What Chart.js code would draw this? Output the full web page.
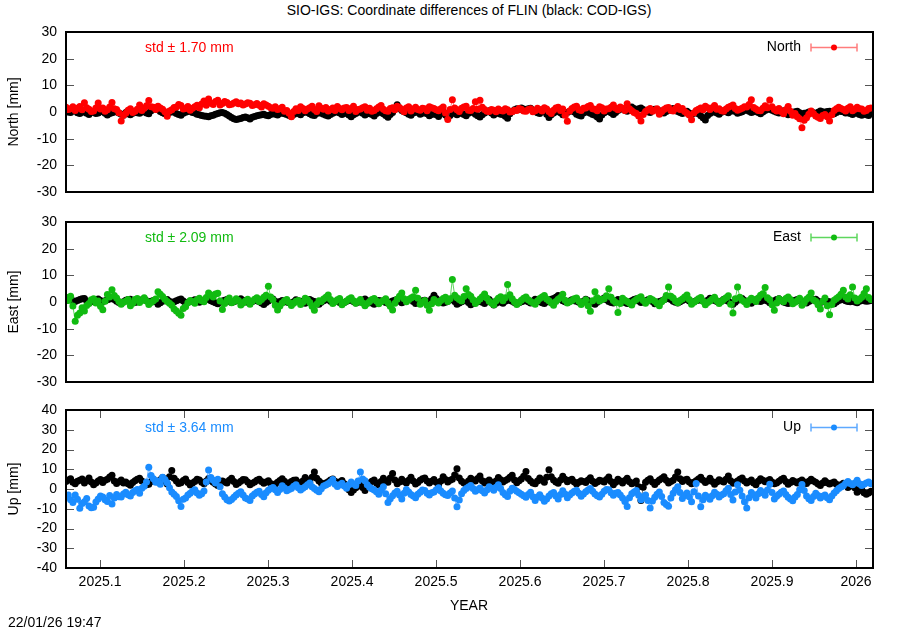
<!DOCTYPE html>
<html>
<head>
<meta charset="utf-8">
<script src="https://cdn.jsdelivr.net/npm/chart.js@4.4.1/dist/chart.umd.min.js"></script>
<style>
  body { margin: 0; background: #fff; width: 900px; height: 630px; position: relative; overflow: hidden;
         font-family: "Liberation Sans", Arial, sans-serif; }
  canvas { position: absolute; left: 0; }
  .txt { position: absolute; font-size: 14px; color: #000; white-space: nowrap; line-height: 16px; }
</style>
</head>
<body>
<div class="txt" style="left:0; width:938px; top:2px; text-align:center;">SIO-IGS: Coordinate differences of FLIN (black: COD-IGS)</div>
<canvas id="c-north" width="900" height="180" style="top:22px"></canvas>
<canvas id="c-east"  width="900" height="180" style="top:212px"></canvas>
<canvas id="c-up"    width="900" height="218" style="top:400px"></canvas>
<div class="txt" style="left:0; width:938px; top:597px; text-align:center;">YEAR</div>
<div class="txt" style="left:8px; top:614px;">22/01/26 19:47</div>

<script>
// ── DATA ───────────────────────────────────────
// daily solutions starting at 2025.0595
const startEpoch = 2025.0595;
const stepDays   = 1;

const xTicks = [2025.1, 2025.2, 2025.3, 2025.4, 2025.5, 2025.6, 2025.7, 2025.8, 2025.9, 2026.0];
const xTickLabels = ['2025.1', '2025.2', '2025.3', '2025.4', '2025.5', '2025.6', '2025.7', '2025.8', '2025.9', '2026'];

// North: SIO-IGS (red) and COD-IGS (black), mm
const northSio = [
  1.8, 0.9, 1.2, 2.0, 0.6, 1.4, 2.1, 0.8, 3.5, 1.6, 1.0, 0.2, 0.4, 1.5, 3.4, 1.1, 1.5, 0.3, 0.8, 1.9, 3.6, 1.2, 0.9, -0.3, -3.4, -1.2, -0.5, 0.7, 1.2, -0.2, 0.3, 1.0, 2.6, 0.6, 1.4, 2.3, 4.3, 2.0, 1.8, 0.9,
  2.2, 1.5, 1.0, 0.1, -1.6, 0.4, 0.8, 1.7, 1.9, 2.8, 2.4, 1.1, 1.3, 2.1, 0.7, 1.4, 2.0, 2.5, 1.6, 3.0, 4.1, 2.5, 4.9, 3.3, 2.8, 3.9, 4.4, 2.6, 3.2, 3.9, 3.6, 2.7, 2.9, 3.4, 3.8, 3.1, 3.4, 2.6, 3.0, 3.5,
  3.3, 2.4, 2.7, 3.2, 2.5, 1.9, 3.1, 2.6, 2.2, 1.6, 1.4, 2.0, 0.9, 1.2, 1.8, 0.3, 0.6, -0.5, -1.8, 0.2, 1.2, 0.6, 2.0, 1.3, 0.5, 1.1, 1.6, 2.2, 0.9, 0.2, 2.3, 1.4, 1.0, 1.7, 0.4, 0.9, 1.5, 0.6, 2.1, 1.3,
  0.8, 1.5, 1.7, 0.6, 1.3, 2.2, 0.2, 0.9, 1.1, 1.6, 2.0, 0.7, 1.4, 0.3, 0.6, 1.2, 1.9, 2.4, 1.0, 0.5, 0.3, 1.3, 1.6, 0.8, 2.2, 1.7, 0.9, 0.1, 1.5, 2.0, 0.4, 1.1, 1.8, 0.9, 0.7, 1.4, 1.2, 0.5, 2.0, 1.6,
  1.3, 0.8, 0.5, 1.2, 1.9, -0.4, -2.8, 0.9, 4.6, 1.5, 0.8, 0.2, 1.4, 1.9, 2.2, 0.7, 0.6, 1.3, 3.8, 1.0, 4.4, 1.8, 0.9, 0.3, 0.2, 0.9, 0.7, 0.1, 1.1, 0.6, 0.4, 1.2, 0.8, 0.0, 0.1, 0.7, 0.6, 1.3, 1.0, 0.4,
  0.3, 0.9, 1.2, 0.1, 0.5, 1.4, 0.9, 0.4, 1.6, 1.1, 0.2, -0.6, 0.7, 1.5, 1.8, 0.6, 1.1, -1.2, -3.5, 0.4, 1.3, 1.9, 2.2, 0.8, 0.6, 1.4, 1.5, 2.1, 2.4, 1.2, 1.0, 0.5, 2.0, 1.6, 0.4, 1.1, 1.2, 1.8, 2.6, 1.4,
  0.8, 1.9, 1.4, 0.6, 3.1, 1.2, 0.5, -0.2, -0.6, -1.5, -3.4, -0.9, 0.2, 0.8, 1.3, 0.3, 0.7, 1.2, -0.8, 0.1, 0.9, 1.5, 1.7, 0.6, 0.4, 1.3, 2.1, 0.9, 1.3, 0.2, -0.5, -1.1, -2.9, -0.4, 0.6, 1.0, 1.5, 0.8, 2.2, 1.6,
  0.9, 1.6, 2.4, 1.0, 1.2, 0.5, 0.3, 1.1, 1.8, 2.2, 2.6, 1.3, 0.7, 1.0, 1.4, 2.0, 1.9, 2.8, 4.6, 1.7, 1.1, 0.6, 0.5, 1.4, 2.3, 1.6, 4.5, 2.0, 0.9, 0.4, 1.3, 0.2, -0.7, 0.8, 2.1, 0.3, -1.2, -0.6, -1.8, -2.5,
  -5.9, -3.1, -2.2, -0.8, 0.4, -0.6, -1.5, -2.0, -2.4, -1.3, -0.9, -1.8, -3.4, -1.0, 0.6, 1.2, 1.8, 1.3, 0.9, 0.4, 1.4, 2.0, 0.5, 1.0, 1.8, 1.2, 1.1, 0.3, 0.6, 1.3, 1.5
];
const northCod = [
  0.3, 0.0, -0.2, 0.4, 0.5, -0.3, -0.6, -0.1, 0.1, -0.5, -0.9, -0.2, 0.2, -0.6, -0.4, 0.1, 0.4, -0.5, -1.1, -0.6, -0.3, 0.0, 0.2, -0.4, -0.8, -1.2, -0.2, -0.7, -1.0, -0.5, 0.1, -0.3, -0.5, 0.0, 0.3, -0.4, -0.7, 0.5, 1.6, 1.0,
  0.8, 0.2, -0.3, -0.7, -0.9, -0.2, 0.4, -0.1, -0.6, -0.9, -1.2, -0.5, -0.1, 0.2, 0.5, -0.2, -0.4, -0.8, -1.0, -1.3, -1.5, -1.6, -1.8, -1.4, -1.2, -0.8, -0.6, -0.3, -0.2, -0.5, -0.9, -1.5, -2.1, -2.5, -2.8, -2.6, -2.4, -2.1, -1.9, -2.2,
  -2.6, -2.0, -1.7, -1.4, -1.2, -1.0, -0.8, -1.2, -1.4, -0.9, -0.5, -0.8, -1.1, -0.6, -0.3, -0.7, -0.9, -1.3, -1.6, -0.9, -0.4, -0.6, -1.0, -0.3, 0.2, -0.2, -0.7, -1.1, -1.3, -0.6, -0.2, -0.5, -0.8, -1.2, -1.5, -0.9, -0.5, -0.1, 0.1, -0.4,
  -0.9, -0.6, -0.3, -1.1, -1.8, -1.0, -0.6, -0.1, 0.2, -0.5, -1.1, -0.7, -0.4, -0.9, -1.5, -0.6, 0.1, -0.2, -0.7, -1.3, -2.0, -0.9, -0.2, 1.2, 2.7, 1.4, 0.6, 0.1, -0.3, -0.8, -1.2, -0.4, 0.4, -0.2, -0.8, -0.5, -0.1, -0.7, -1.4, -0.9,
  -0.5, -1.0, -1.7, -0.6, 0.2, -1.1, -2.2, -1.3, -0.6, -0.3, -1.0, -0.6, -0.2, -0.9, -1.4, -0.5, 0.3, -0.2, -0.8, -1.4, -1.9, -1.0, -0.4, 0.1, 0.5, -0.4, -1.1, -0.6, -0.3, -0.8, -0.9, -1.6, -2.3, -0.7, 0.2, 0.8, 1.2, 0.9, 1.5, 1.1,
  0.8, 1.2, 1.4, 0.7, 0.2, -0.3, -0.6, 0.3, 0.9, -0.8, -2.1, -1.0, -0.4, 0.1, 0.6, -0.3, -1.0, -0.5, -0.2, 0.3, 0.7, 0.0, -0.8, -1.2, -1.5, -0.4, 0.3, -0.1, -0.5, -0.9, -1.2, -1.9, -2.6, -1.1, -0.3, 0.2, 0.4, -0.3, -0.9, -0.2,
  0.6, 1.0, 1.2, 0.7, 0.3, 1.1, 1.9, 1.3, 0.8, 1.2, 1.5, 0.9, 0.4, 0.1, -0.2, 0.5, 1.0, 0.8, 0.5, 0.0, -0.4, 0.2, 0.7, 1.0, 1.3, 0.6, 0.2, -0.2, -0.6, -0.1, 0.3, -0.4, -0.9, -0.5, -0.1, -0.7, -1.4, -2.2, -3.0, -1.3,
  -0.6, -0.1, 0.2, -0.4, -0.8, -0.1, 0.5, 0.1, -0.3, 0.3, 0.8, 0.2, -0.5, -0.2, 0.1, 0.6, 0.9, 0.3, -0.2, 0.1, 0.4, -0.2, -0.7, 0.0, 0.6, 0.9, 1.2, 0.7, 0.3, -0.1, -0.4, 0.0, 0.5, -0.3, -1.0, -0.6, -0.2, 0.1, 0.3, -0.3,
  -0.8, -0.5, -0.4, 0.0, 0.2, -0.3, -0.6, -0.1, 0.4, 0.1, -0.1, 0.2, 0.3, -0.3, -0.7, -0.2, 0.5, 0.2, 0.1, -0.4, -0.3, -0.6, -0.9, -0.4, -0.5, -0.9, -1.2, -0.7, -1.0, -1.3, -0.4
];

// East
const eastSio = [
  1.8, 0.6, 2.2, -1.5, -7.2, -5.0, -4.1, -2.2, -3.4, -1.3, -0.6, 0.8, 1.2, -0.4, 0.4, -1.6, -2.9, 0.3, 2.8, 1.9, 4.6, 2.4, 1.5, 0.2, -0.8, -0.1, 0.3, 0.9, -1.4, -0.5, 0.9, 1.3, -0.2, 0.6, 1.6, 0.4, -0.9, -0.2, 0.5, 1.1,
  3.8, 2.9, 2.1, 1.0, 0.2, -0.5, -1.2, -2.6, -3.4, -4.2, -5.0, -2.4, -1.8, -0.3, 0.6, 0.2, -0.5, 0.8, 1.4, 0.5, 0.1, 1.7, 3.4, 2.6, 1.9, 3.0, 3.3, 0.4, -2.8, -0.6, 0.7, 1.5, -0.3, 0.2, 1.2, 0.6, -1.1, -0.4, 0.4, 1.0,
  -0.8, 0.3, 1.0, 1.6, 0.2, 0.9, 1.8, 2.5, 5.9, 1.9, 0.8, -1.2, -3.0, -1.5, -0.4, 0.5, 0.9, -0.2, -1.3, -0.5, 0.3, 0.6, -0.9, -0.1, 1.4, 0.8, -0.2, -1.6, -3.1, -0.8, 0.5, 0.2, 1.1, 1.8, 2.6, 0.9, -0.6, 0.1, 0.8, 1.3,
  -1.0, -0.2, 0.4, 1.1, 1.6, 0.5, -0.5, 0.2, 0.9, -0.4, -1.4, -0.6, 0.2, 0.9, 1.3, 0.4, -0.7, 0.1, 0.6, 1.2, -0.3, -1.6, -3.0, -0.5, 1.0, 2.2, 3.4, 1.2, 0.1, 0.8, 1.5, 2.0, 4.4, 1.4, -0.8, -0.1, 0.6, -1.2, -3.1, -0.7,
  0.9, 0.2, -0.4, 0.6, 1.3, 1.8, 0.2, 1.2, 8.4, 2.5, 1.6, 0.9, 0.4, 2.1, 5.0, 2.8, 2.2, 0.8, -0.6, 0.3, 1.1, 2.0, 3.0, 1.5, 0.3, -0.4, -1.0, 0.5, 1.4, 2.0, 0.5, 1.6, 6.6, 2.7, 1.2, 0.1, -0.9, -0.2, 0.7, 1.4,
  1.9, 0.8, 0.2, -0.3, -0.8, 0.4, 1.3, 1.9, 2.4, 1.1, 0.5, -0.4, -1.2, 0.2, 1.0, 1.7, 2.9, 0.7, -0.4, 0.1, 0.6, 1.2, 1.5, 0.3, -0.9, -0.1, 0.8, -1.4, -3.5, 0.5, 3.8, 1.6, 0.4, 0.9, 1.2, 2.3, 5.0, 1.8, 0.6, -0.2,
  -3.9, -0.6, 1.4, 0.7, 0.2, -0.4, -1.1, 0.3, 0.9, 1.5, 2.0, 0.6, -0.5, 0.4, 1.3, 0.8, 0.3, -0.6, -1.4, 0.1, 0.8, 2.4, 5.6, 2.2, 1.5, 0.4, -0.3, 0.6, 1.1, 1.9, 2.6, 0.9, -0.8, -0.1, 0.5, 1.2, 1.7, 0.3, -1.0, -0.2,
  0.4, 1.1, 1.8, 0.5, -0.6, 0.2, 0.9, 1.6, 2.3, -0.8, -4.1, 1.2, 5.6, 1.8, 0.7, 0.1, -0.9, 0.6, 1.4, 0.8, 0.2, 1.5, 2.5, 3.1, 5.4, 1.6, 0.8, -1.0, -3.1, -0.4, 1.2, 0.6, 0.1, 1.3, 1.9, 0.9, -0.7, -0.1, 0.6, 1.4,
  -1.2, -0.3, 1.0, 1.8, 3.4, 0.8, 0.3, -1.0, -2.6, 0.2, 1.5, -1.4, -4.8, -0.9, 0.7, 1.3, 2.0, 2.9, 4.4, 1.9, 1.1, 2.7, 5.6, 1.5, 0.4, 1.0, 1.8, 3.2, 5.0, 1.7, 0.9
];
const eastCod = [
  0.6, 0.9, 1.0, 0.5, 0.2, 0.6, 0.9, 1.2, 1.3, 0.4, -0.4, 0.1, 0.5, 0.8, 1.1, 0.6, 0.2, 0.5, 0.8, 1.1, 1.4, 0.9, 0.3, -0.2, -0.6, 0.1, 0.7, 0.9, 1.0, 0.4, -0.2, 0.1, 0.4, 0.8, 1.2, 0.5, 0.0, 0.3, 0.6, 0.2,
  -0.8, -0.3, 0.3, 0.6, 0.9, 0.3, -0.3, 0.1, 0.5, 0.8, 1.1, 0.4, -0.5, -0.1, 0.2, 0.5, 0.8, 0.3, -0.1, 0.2, 0.6, 0.9, 1.0, 0.5, 0.1, -0.3, -0.7, -0.1, 0.4, 0.7, 0.9, 0.3, -0.2, 0.1, 0.5, 0.9, 1.2, 0.7, 0.3, -0.1,
  -0.4, 0.2, 0.7, 0.5, 0.2, -0.4, -0.9, -0.2, 0.4, 0.8, 1.1, 0.3, -0.3, 0.2, 0.6, 0.2, 0.0, -0.3, -0.6, 0.1, 0.8, 0.5, 0.3, -0.1, -0.5, 0.3, 0.9, 0.5, 0.2, -0.4, -0.8, -0.1, 0.5, 0.8, 1.0, 0.3, -0.2, 0.1, 0.4, -0.2,
  -0.7, -0.2, 0.3, 0.6, 0.8, 0.2, -0.4, -0.1, 0.2, 0.7, 1.1, 0.5, 0.0, -0.4, -0.8, -0.1, 0.6, 0.4, 0.2, -0.2, -0.5, 0.0, 0.4, 0.7, 1.0, 0.3, -0.3, 0.1, 0.5, 0.8, 0.9, 0.2, -0.6, -0.3, 0.1, 0.5, 0.7, 0.3, -0.2, 1.2,
  2.5, 1.3, 0.6, 0.1, -0.4, -0.1, 0.3, 0.8, 1.2, 0.2, -0.8, -0.4, 0.1, 0.5, 0.7, -0.2, -1.0, -0.6, -0.3, 0.1, 0.4, -0.1, -0.6, 0.2, 0.9, 0.0, -1.1, -0.5, 0.2, -0.1, -0.5, 0.3, 0.8, 0.6, 0.3, -0.2, -0.7, -0.3, 0.1, 0.4,
  0.6, 0.1, -0.4, 0.4, 1.0, 0.6, 0.2, -0.3, -0.6, 0.1, 0.7, 1.0, 1.3, 1.8, 2.4, 1.1, 0.5, 0.1, -0.2, 0.4, 0.8, 0.5, 0.3, -0.1, -0.5, 0.3, 1.0, 0.6, 0.1, -0.4, -0.8, -0.1, 0.6, 1.0, 1.5, 0.8, 0.2, -0.2, -0.4, 0.3,
  0.9, 0.6, 0.3, -0.2, -0.6, 0.0, 0.5, 0.9, 1.2, 0.4, -0.2, 0.1, 0.4, 0.8, 1.0, 0.2, -0.7, -0.2, 0.2, 0.5, 0.8, 1.2, 1.6, 0.9, 0.3, -0.1, -0.4, 0.1, 0.6, 0.9, 1.1, 0.4, -0.3, 0.1, 0.5, 0.7, 0.9, 0.4, 0.0, 0.7,
  1.4, 1.0, 0.6, 0.2, -0.2, 0.4, 1.0, 0.7, 0.3, -0.3, -0.8, -0.1, 0.7, 1.0, 1.3, 0.6, 0.1, -0.2, -0.5, 0.2, 0.8, 0.5, 0.2, 0.6, 1.1, 0.4, -0.3, 0.1, 0.5, 0.9, 1.2, 0.6, 0.0, -0.3, -0.6, -0.1, 0.4, 0.7, 0.9, 0.5,
  0.2, -0.1, -0.4, 0.2, 0.7, 0.9, 1.0, 0.4, -0.2, 0.1, 0.5, 0.3, 0.1, -0.3, -0.7, 0.0, 0.6, 0.8, 0.9, 0.5, 0.2, 0.1, 0.4, 0.0, -0.3, 0.3, 0.8, 0.5, 0.3, 0.4, 0.6
];

// Up
const upSio = [
  -4.2, -3.0, -5.5, -6.8, -3.1, -5.2, -9.8, -7.4, -6.4, -4.8, -8.6, -9.5, -9.2, -6.6, -5.0, -3.6, -4.1, -5.4, -6.3, -3.3, -7.6, -4.5, -2.8, -3.9, -4.0, -2.5, -1.6, -2.9, -3.5, -1.8, -0.9, -0.3, -2.2, 0.4, 1.4, 3.6, 11.0, 6.8, 5.2, 3.4,
  4.1, 2.4, 6.0, 4.8, 3.2, 0.6, -1.5, -2.6, -3.8, -6.0, -8.8, -5.2, -4.6, -3.0, -2.1, -1.2, -0.4, -2.0, -3.2, -2.4, -1.0, 3.5, 9.6, 5.8, 4.4, 3.1, 5.0, 1.2, -2.4, -4.0, -5.5, -6.1, -5.3, -4.2, -3.0, -2.2, -1.4, -3.1, -4.6, -5.1,
  -5.8, -3.6, -2.5, -1.6, -1.2, -2.8, -3.9, -1.9, -0.6, 0.2, 0.8, -0.4, -1.8, -0.2, 1.6, 0.5, -0.9, -0.3, 0.3, 1.4, 2.1, 0.6, -0.5, 0.4, 1.2, 2.2, 3.0, 1.1, 0.2, -0.6, -1.4, 0.1, 1.5, 2.0, 2.6, 3.5, 4.8, 2.4, 1.3, 2.2,
  2.9, 1.5, 0.4, 2.1, 3.6, 2.5, 1.8, 4.0, 8.6, 5.1, 4.2, 2.2, 0.9, 0.1, -0.5, -1.4, -2.6, -0.6, 1.1, -2.4, -6.8, -4.9, -3.4, -2.0, -1.2, -3.1, -5.0, -2.2, -0.3, -1.5, -2.8, -3.6, -4.4, -2.7, -1.6, -0.5, -0.8, -2.1, -3.0, -1.9,
  -1.5, -0.4, 0.6, -1.0, -2.2, -2.9, -3.3, -2.0, -1.0, -4.5, -9.0, -5.6, -2.4, -0.8, 0.3, 1.0, 1.8, 0.2, -1.2, -0.4, 0.5, -0.9, -2.0, -0.5, 1.2, 0.4, -0.6, 0.9, 2.2, 0.3, -1.8, -2.9, -3.8, -1.2, 0.4, -0.3, -1.1, -1.9, -2.6, -3.4,
  -4.2, -2.8, -1.6, -3.9, -5.8, -4.1, -2.9, -4.6, -6.2, -5.0, -3.5, -2.4, -1.8, -3.6, -5.1, -2.8, -0.9, -2.5, -4.4, -3.1, -2.0, -1.2, -0.6, -2.1, -3.7, -2.5, -1.4, -0.5, 0.3, -1.2, -2.5, -3.4, -4.0, -2.6, -1.1, -0.2, -0.4, -1.9, -3.2, -2.1,
  -1.8, -3.0, -4.6, -6.3, -8.8, -4.4, -2.4, -1.5, -0.8, -3.2, -5.5, -4.0, -3.0, -5.8, -9.6, -6.1, -4.2, -2.6, -1.5, -3.8, -6.8, -7.9, -8.7, -4.6, -2.2, -0.4, 1.2, -1.8, -4.8, -3.3, -2.0, -3.9, -6.5, -1.4, 2.8, -3.5, -9.0, -5.4, -3.2, -4.1,
  -5.2, -3.4, -1.6, -2.7, -4.0, -3.1, -2.4, -0.9, 0.4, -2.8, -5.6, -1.5, 2.2, -0.6, -3.6, -6.4, -9.6, -4.4, -1.8, -2.9, -4.5, -2.4, -0.8, -1.9, -3.2, -0.5, 2.4, -1.8, -5.0, -3.7, -2.6, -1.6, -1.0, -2.8, -4.2, -5.1, -6.0, -4.0, -2.8, -0.4,
  2.3, -0.8, -3.6, -4.9, -5.8, -3.8, -2.2, -3.3, -4.6, -3.7, -3.0, -4.4, -5.4, -3.5, -2.0, -0.9, 0.2, 1.0, 1.6, 2.9, 3.8, 2.8, 2.2, 3.1, 4.4, 2.6, 1.8, 2.4, 3.0, 3.6, 2.6
];
const upCod = [
  3.8, 4.6, 5.2, 3.4, 2.6, 3.9, 4.4, 5.1, 3.1, 4.2, 5.6, 3.6, 2.2, 3.1, 4.0, 4.8, 3.3, 4.4, 5.0, 6.1, 7.0, 4.1, 2.8, 3.7, 4.6, 3.0, 3.5, 2.6, 1.9, 3.3, 4.2, 4.9, 5.4, 4.0, 3.0, 2.1, 2.4, 3.8, 4.8, 3.9,
  3.6, 4.7, 5.8, 3.9, 2.5, 6.2, 9.4, 5.5, 4.0, 2.8, 3.2, 4.3, 5.1, 3.3, 2.0, 3.1, 3.8, 4.9, 4.5, 3.4, 2.7, 4.0, 5.3, 4.2, 3.4, 2.5, 1.8, 3.2, 4.1, 3.6, 3.0, 4.4, 5.5, 3.8, 2.3, 3.0, 3.9, 4.8, 4.7, 3.5,
  2.1, 2.9, 3.6, 4.4, 5.0, 3.8, 2.9, 3.6, 4.2, 2.8, 1.6, 2.5, 3.4, 4.3, 5.2, 3.9, 2.6, 3.1, 3.8, 4.4, 4.6, 3.3, 2.2, 4.0, 5.8, 4.6, 3.5, 6.0, 8.6, 5.4, 4.0, 3.1, 2.4, 3.0, 3.7, 4.5, 5.1, 3.9, 2.8, 3.6,
  4.3, 2.6, 1.2, -0.4, -1.8, -0.5, 0.6, 1.5, 2.2, 0.7, -0.8, 1.2, 3.0, 3.9, 4.6, 3.1, 2.0, 3.8, 5.5, 4.2, 3.4, 5.6, 7.8, 4.5, 2.6, 3.6, 4.9, 3.8, 3.1, 4.4, 6.0, 4.1, 2.5, 3.3, 4.4, 5.2, 5.6, 4.0, 3.0, 3.9,
  4.8, 3.4, 2.2, 4.1, 6.2, 4.8, 3.6, 4.4, 5.0, 7.1, 10.2, 5.6, 3.9, 3.0, 2.4, 4.0, 5.4, 4.6, 4.1, 5.3, 6.6, 4.2, 3.0, 3.8, 4.5, 3.4, 2.7, 4.1, 5.8, 4.7, 3.6, 4.3, 4.9, 6.0, 7.0, 4.5, 3.2, 4.2, 5.1, 6.4,
  8.8, 5.3, 4.0, 3.1, 2.6, 4.1, 5.6, 4.4, 3.4, 6.0, 9.8, 6.2, 4.6, 3.5, 2.9, 4.6, 6.4, 4.9, 3.7, 4.4, 5.0, 3.6, 2.5, 3.4, 4.2, 3.8, 3.3, 4.6, 5.7, 3.9, 2.8, 3.5, 4.4, 4.0, 3.6, 4.8, 6.1, 3.8, 2.2, 3.4,
  4.9, 4.0, 3.1, 4.3, 5.5, 3.7, 2.6, 3.2, 4.0, 1.1, -5.8, 0.9, 3.4, 4.4, 5.2, 3.6, 2.3, 3.5, 4.6, 5.3, 6.2, 4.4, 3.0, 3.8, 4.4, 6.1, 8.6, 5.2, 3.8, 4.6, 5.0, 3.6, 2.7, 3.4, 4.2, 5.1, 6.0, 4.4, 3.3, 4.1,
  5.4, 3.8, 2.4, 3.6, 4.7, 4.0, 3.5, 5.0, 6.6, 4.2, 2.9, 3.4, 4.1, 4.9, 5.6, 4.1, 3.0, 3.8, 4.5, 3.1, 2.2, 3.9, 5.2, 4.4, 3.7, 4.2, 4.8, 3.5, 2.6, 3.1, 3.9, 4.8, 5.5, 3.8, 2.4, 3.3, 4.3, 3.7, 3.1, 3.9,
  4.6, 3.5, 2.8, 3.9, 5.0, 4.1, 3.4, 2.5, 1.8, 3.0, 4.2, 3.2, 2.5, 3.1, 3.6, 2.4, 1.4, 2.2, 2.9, 1.9, 0.8, 1.5, 2.2, 0.6, -1.6, -0.8, -0.4, -1.9, -2.6, -2.0, -1.2
];

const epochs = northSio.map((_, i) => startEpoch + i * stepDays / 365.25);

// ── STYLE ──────────────────────────────────────
const FONT = '"Liberation Sans", Arial, sans-serif';
const X_MIN = 2025.0595, X_MAX = 2026.0202;

const pts = vals => vals.map((v, i) => ({ x: epochs[i], y: v }));

// gnuplot-like frame: inward mirrored tics, heavy border, std note and key
const gnuFrame = {
  id: 'gnuFrame',
  beforeDatasetsDraw(chart, args, o) {
    const { ctx, chartArea: a, scales: { x, y } } = chart;
    ctx.save();
    ctx.lineWidth = 1;
    ctx.strokeStyle = '#555';
    ctx.beginPath();
    y.ticks.forEach(t => {
      const py = Math.round(y.getPixelForValue(t.value)) + 0.5;
      ctx.moveTo(a.left, py);  ctx.lineTo(a.left + 8, py);
      ctx.moveTo(a.right, py); ctx.lineTo(a.right - 8, py);
    });
    if (o.xTics) {
      x.ticks.forEach(t => {
        const px = Math.round(x.getPixelForValue(t.value)) + 0.5;
        ctx.moveTo(px, a.bottom); ctx.lineTo(px, a.bottom - 8);
        ctx.moveTo(px, a.top);    ctx.lineTo(px, a.top + 8);
      });
    }
    ctx.stroke();
    ctx.restore();
  },
  afterDatasetsDraw(chart, args, o) {
    const { ctx, chartArea: a } = chart;
    ctx.save();
    ctx.strokeStyle = '#000';
    ctx.lineWidth = 2;
    ctx.strokeRect(a.left, a.top, a.right - a.left, a.bottom - a.top);

    ctx.font = '14px ' + FONT;
    ctx.textBaseline = 'middle';
    ctx.textAlign = 'left';
    ctx.fillStyle = o.color;
    ctx.fillText(o.std, a.left + 79, a.top + o.dy);

    ctx.textAlign = 'right';
    ctx.fillStyle = '#000';
    ctx.fillText(o.name, a.right - 72, a.top + o.dy - 1);

    const ly = Math.round(a.top + o.dy - 1) + 0.5, l0 = a.right - 62, l1 = a.right - 16;
    ctx.strokeStyle = o.light;
    ctx.lineWidth = 1.5;
    ctx.beginPath();
    ctx.moveTo(l0, ly); ctx.lineTo(l1, ly);
    ctx.moveTo(l0, ly - 4); ctx.lineTo(l0, ly + 4);
    ctx.moveTo(l1, ly - 4); ctx.lineTo(l1, ly + 4);
    ctx.stroke();
    ctx.fillStyle = o.color;
    ctx.beginPath();
    ctx.arc((l0 + l1) / 2, ly, 3, 0, Math.PI * 2);
    ctx.fill();
    ctx.restore();
  }
};

function makePanel(id, cfg) {
  const showX = !!cfg.showX;
  return new Chart(document.getElementById(id), {
    type: 'scatter',
    data: {
      datasets: [
        { data: pts(cfg.sio), borderColor: cfg.light, backgroundColor: cfg.color },
        { data: pts(cfg.cod), borderColor: 'rgba(60,60,60,0.7)', backgroundColor: '#000' }
      ]
    },
    options: {
      responsive: false,
      animation: false,
      devicePixelRatio: 1,
      showLine: true,
      layout: { padding: { top: 10, bottom: showX ? 0 : 10, left: 0, right: 27 } },
      elements: {
        line:  { borderWidth: 1, tension: 0 },
        point: { radius: 3.5, borderWidth: 0, hoverRadius: 3.5 }
      },
      plugins: {
        legend: { display: false },
        tooltip: { enabled: false },
        gnuFrame: { color: cfg.color, light: cfg.light, std: cfg.std, name: cfg.name, dy: cfg.dy, xTics: showX }
      },
      scales: {
        x: {
          type: 'linear', min: X_MIN, max: X_MAX, display: showX,
          grid: { display: false, drawTicks: false },
          border: { display: false },
          afterBuildTicks: s => { s.ticks = xTicks.map(v => ({ value: v })); },
          afterFit: s => {
            if (showX) s.height = 50;
            s.paddingLeft = 0; s.paddingRight = 0;
          },
          ticks: {
            autoSkip: false, maxRotation: 0, padding: 6, color: '#000',
            font: { size: 14, family: FONT },
            callback: v => xTickLabels[xTicks.findIndex(t => Math.abs(t - v) < 1e-6)]
          }
        },
        y: {
          min: -cfg.lim, max: cfg.lim,
          grid: { display: false, drawTicks: false },
          border: { display: false },
          afterFit: s => { s.width = 66; s.paddingTop = 0; s.paddingBottom = 0; },
          ticks: { stepSize: 10, autoSkip: false, padding: 9, color: '#000', font: { size: 14, family: FONT } },
          title: { display: true, text: cfg.title, color: '#000', font: { size: 14, family: FONT }, padding: { top: 6, bottom: 0 } }
        }
      }
    },
    plugins: [gnuFrame]
  });
}

makePanel('c-north', { sio: northSio, cod: northCod, lim: 30, title: 'North [mm]', name: 'North',
  std: 'std \u00b1 1.70 mm', color: '#ff0000', light: 'rgba(255,80,80,0.75)', dy: 16 });
makePanel('c-east', { sio: eastSio, cod: eastCod, lim: 30, title: 'East [mm]', name: 'East',
  std: 'std \u00b1 2.09 mm', color: '#11bb11', light: 'rgba(40,200,40,0.75)', dy: 16 });
makePanel('c-up', { sio: upSio, cod: upCod, lim: 40, title: 'Up [mm]', name: 'Up',
  std: 'std \u00b1 3.64 mm', color: '#1a8cff', light: 'rgba(40,140,255,0.75)', dy: 18, showX: true });
</script>
</body>
</html>
